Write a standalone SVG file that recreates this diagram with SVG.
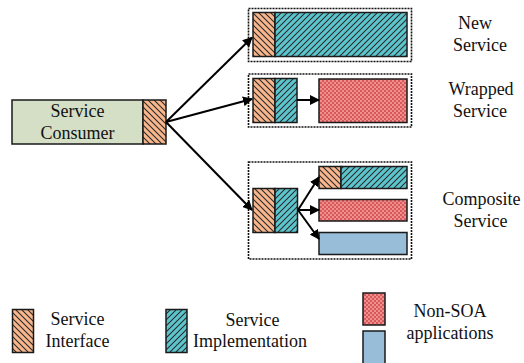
<svg xmlns="http://www.w3.org/2000/svg" width="524" height="363" viewBox="0 0 524 363">
<defs>
<pattern id="pOr" patternUnits="userSpaceOnUse" width="6" height="6">
<rect width="6" height="6" fill="#F8B68C"/>
<path d="M0,0 L6,6 M-1,5 L1,7 M5,-1 L7,1" stroke="#2a2a2a" stroke-width="1.1"/>
</pattern>
<pattern id="pTe" patternUnits="userSpaceOnUse" width="6" height="6">
<rect width="6" height="6" fill="#5CC6CF"/>
<path d="M0,6 L6,0 M-1,1 L1,-1 M5,7 L7,5" stroke="#2a2a2a" stroke-width="1.1"/>
</pattern>
<pattern id="pRe" patternUnits="userSpaceOnUse" width="4" height="4">
<rect width="4" height="4" fill="#D85858"/>
<rect width="2" height="2" fill="#EE9090"/>
<rect x="2" y="2" width="2" height="2" fill="#EE9090"/>
</pattern>
<marker id="ah" viewBox="0 0 10 10" refX="9" refY="5" markerWidth="5" markerHeight="5" markerUnits="strokeWidth" orient="auto">
<path d="M0,0 L10,5 L0,10 Z" fill="#000"/>
</marker>
</defs>
<style>
.bx{stroke:#1a1a1a;stroke-width:1.5}
.or{fill:url(#pOr)}
.te{fill:url(#pTe)}
.re{fill:url(#pRe)}
.bl{fill:#98BDD8}
.gr{fill:#D4DFC6}
.ds{fill:#fff;stroke:#111;stroke-width:1.6;stroke-dasharray:2 1}
.t{font-size:18px;fill:#111;text-anchor:middle}
.ar{stroke:#000;stroke-width:2;fill:none;marker-end:url(#ah)}
</style>

<g id="consumer">
<rect class="bx gr" x="12" y="100" width="131" height="44"/>
<rect class="bx or" x="143" y="100" width="23" height="44"/>
<text class="t" font-family="'Liberation Serif', 'Times New Roman', 'DejaVu Serif', serif" x="77.5" y="117">Service</text>
<text class="t" font-family="'Liberation Serif', 'Times New Roman', 'DejaVu Serif', serif" x="77.5" y="139">Consumer</text>
</g>

<g id="new-service">
<rect class="ds" x="248.5" y="8.5" width="163" height="53"/>
<rect class="bx or" x="253" y="12.5" width="22" height="44"/>
<rect class="bx te" x="275" y="12.5" width="132" height="44"/>
<text class="t" font-family="'Liberation Serif', 'Times New Roman', 'DejaVu Serif', serif" x="475" y="29">New</text>
<text class="t" font-family="'Liberation Serif', 'Times New Roman', 'DejaVu Serif', serif" x="480" y="51">Service</text>
</g>

<g id="wrapped-service">
<rect class="ds" x="248.5" y="74" width="163" height="53"/>
<rect class="bx or" x="253" y="78.5" width="22" height="44"/>
<rect class="bx te" x="275" y="78.5" width="22" height="44"/>
<rect class="bx re" x="319" y="79" width="88" height="43.5"/>
<text class="t" font-family="'Liberation Serif', 'Times New Roman', 'DejaVu Serif', serif" x="481" y="95">Wrapped</text>
<text class="t" font-family="'Liberation Serif', 'Times New Roman', 'DejaVu Serif', serif" x="480" y="117">Service</text>
</g>

<g id="composite-service">
<rect class="ds" x="248.5" y="162" width="163" height="97"/>
<rect class="bx or" x="253" y="188.5" width="22" height="44"/>
<rect class="bx te" x="275" y="188.5" width="22.5" height="44"/>
<rect class="bx or" x="319" y="166.5" width="22" height="22"/>
<rect class="bx te" x="341" y="166.5" width="66" height="22"/>
<rect class="bx re" x="319" y="199.5" width="88" height="21.5"/>
<rect class="bx bl" x="319" y="232.5" width="88" height="22"/>
<text class="t" font-family="'Liberation Serif', 'Times New Roman', 'DejaVu Serif', serif" x="481.5" y="205">Composite</text>
<text class="t" font-family="'Liberation Serif', 'Times New Roman', 'DejaVu Serif', serif" x="480.5" y="227">Service</text>
</g>

<g id="connectors">
<path class="ar" d="M166,122 L252,37.5"/>
<path class="ar" d="M166,122 L252,99"/>
<path class="ar" d="M166,122 L252,210"/>
<path class="ar" d="M297,100 L319,100"/>
<path class="ar" d="M298,210 L319,177"/>
<path class="ar" d="M298,210 L319,210"/>
<path class="ar" d="M298,210 L319,239"/>
</g>

<g id="legend-interface">
<rect class="bx or" x="12.5" y="309.5" width="21" height="43"/>
<text class="t" font-family="'Liberation Serif', 'Times New Roman', 'DejaVu Serif', serif" x="77.5" y="325">Service</text>
<text class="t" font-family="'Liberation Serif', 'Times New Roman', 'DejaVu Serif', serif" x="77.5" y="347">Interface</text>
</g>

<g id="legend-implementation">
<rect class="bx te" x="166" y="309.5" width="21" height="43"/>
<text class="t" font-family="'Liberation Serif', 'Times New Roman', 'DejaVu Serif', serif" x="252.5" y="326">Service</text>
<text class="t" font-family="'Liberation Serif', 'Times New Roman', 'DejaVu Serif', serif" x="250" y="347">Implementation</text>
</g>

<g id="legend-nonsoa">
<rect class="bx re" x="363" y="293" width="22" height="32"/>
<rect class="bx bl" x="363" y="331" width="22" height="36"/>
<text class="t" font-family="'Liberation Serif', 'Times New Roman', 'DejaVu Serif', serif" x="450" y="317">Non-SOA</text>
<text class="t" font-family="'Liberation Serif', 'Times New Roman', 'DejaVu Serif', serif" x="450" y="339">applications</text>
</g>
</svg>
